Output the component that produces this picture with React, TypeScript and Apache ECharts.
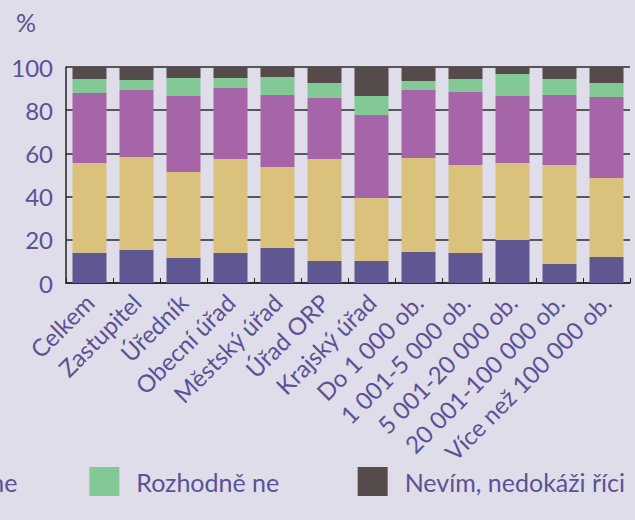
import React, { useEffect, useRef } from "react";
import * as echarts from "echarts";

const categories = [
  "Celkem",
  "Zastupitel",
  "Úředník",
  "Obecní úřad",
  "Městský úřad",
  "Úřad ORP",
  "Krajský úřad",
  "Do 1 000 ob.",
  "1 001-5 000 ob.",
  "5 001-20 000 ob.",
  "20 001-100 000 ob.",
  "Více než 100 000 ob.",
];

const seriesNames = ["Rozhodně ano", "Spíše ano", "Spíše ne", "Rozhodně ne", "Nevím, nedokáži říci"];

const rozhodneAno = [14.0, 15.3, 11.6, 13.9, 16.2, 10.2, 10.2, 14.4, 13.9, 19.9, 8.8, 12.0];
const spiseAno = [41.6, 43.0, 39.8, 43.5, 37.5, 47.2, 29.2, 43.5, 40.7, 35.7, 45.8, 36.6];
const spiseNe = [32.4, 31.1, 35.2, 32.9, 33.3, 28.2, 38.4, 31.5, 33.8, 31.0, 32.4, 37.5];
const rozhodneNe = [6.5, 4.6, 8.3, 4.6, 8.4, 7.0, 8.8, 4.1, 6.0, 10.2, 7.4, 6.5];
const nevim = [5.5, 6.0, 5.1, 5.1, 4.6, 7.4, 13.4, 6.5, 5.6, 3.2, 5.6, 7.4];

const colors = ["#5e5792", "#dbc27c", "#a765a9", "#82c995", "#554b4b"];
const TEXT = "#5b5296";
const FONT = "Lato";

export default function App() {
  const ref = useRef<HTMLDivElement>(null);
  useEffect(() => {
    document.body.style.margin = "0";
    if (!ref.current) return;
    const chart = echarts.init(ref.current, null, { renderer: "svg" });
    const values = [rozhodneAno, spiseAno, spiseNe, rozhodneNe, nevim];
    chart.setOption({
      animation: false,
      backgroundColor: "#dfdde9",
      textStyle: { fontFamily: FONT },
      grid: { left: 66, right: 5, top: 67, bottom: 237, containLabel: false },
      legend: {
        data: seriesNames,
        orient: "horizontal",
        align: "left",
        right: 10,
        top: 467,
        width: 3000,
        padding: 0,
        itemWidth: 30,
        itemHeight: 29,
        itemGap: 72,
        icon: "rect",
        formatter: (name: string) => (name === "Rozhodně ne" ? name + " " : name),
        textStyle: { color: TEXT, fontSize: 25, fontFamily: FONT, padding: [0, 0, 0, 12] },
      },
      xAxis: {
        type: "category",
        data: categories,
        axisLine: { show: true, lineStyle: { color: "#222", width: 1.5 } },
        axisTick: { show: true, inside: true, length: 5, lineStyle: { color: "#222" } },
        axisLabel: {
          rotate: 45,
          color: TEXT,
          fontSize: 24,
          fontFamily: FONT,
          margin: 15,
          interval: 0,
        },
      },
      yAxis: {
        type: "value",
        min: 0,
        max: 100,
        interval: 20,
        name: "%",
        nameLocation: "end",
        nameGap: 33,
        nameTextStyle: { color: TEXT, fontSize: 25, fontFamily: FONT, align: "right", padding: [0, 30, 0, 0] },
        axisLine: { show: true, lineStyle: { color: "#222", width: 1.5 } },
        axisTick: { show: false },
        axisLabel: { color: TEXT, fontSize: 24, fontFamily: FONT, margin: 13 },
        splitLine: { show: true, lineStyle: { color: "#2a2a2a", width: 1.5 } },
      },
      series: seriesNames.map((name, i) => ({
        name,
        type: "bar",
        stack: "total",
        barWidth: 34,
        data: values[i],
        itemStyle: { color: colors[i] },
      })),
    });
    return () => chart.dispose();
  }, []);
  return <div ref={ref} style={{ width: 635, height: 520 }} />;
}
